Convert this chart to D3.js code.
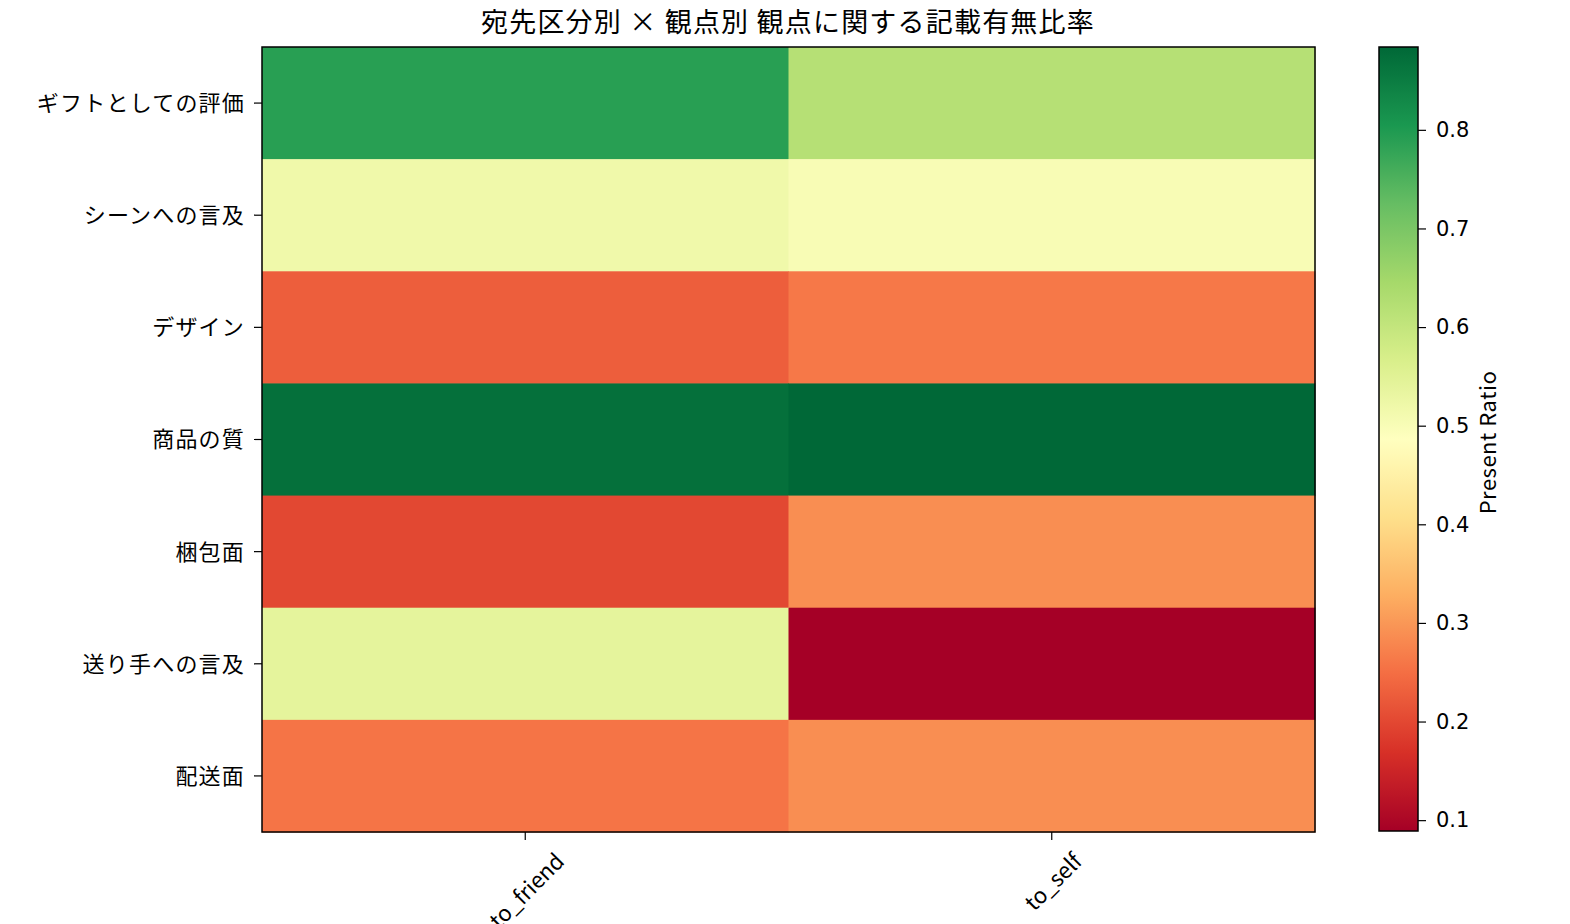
<!DOCTYPE html>
<html><head><meta charset="utf-8">
<script src="https://cdn.jsdelivr.net/npm/d3@7"></script>
<style>body{margin:0;background:#fff}svg{display:block}text{font-family:"Noto Sans CJK JP","Noto Sans",sans-serif;fill:#000}</style>
</head><body><svg id="c" width="1570" height="924"></svg>
<script>
const title = "宛先区分別 × 観点別 観点に関する記載有無比率";
const columns = ["to_friend", "to_self"];
const rows = ["ギフトとしての評価", "シーンへの言及", "デザイン", "商品の質", "梱包面", "送り手への言及", "配送面"];
const toFriend = [0.79, 0.518, 0.228, 0.87, 0.20, 0.54, 0.256];
const toSelf   = [0.62, 0.502, 0.262, 0.884, 0.288, 0.089, 0.288];
const cbTicks = [0.1, 0.2, 0.3, 0.4, 0.5, 0.6, 0.7, 0.8];
const cbLabel = "Present Ratio";
const vmin = 0.089, vmax = 0.884;

const svg = d3.select("#c");
const L = 262, R = 1315, T = 47, B = 832;
const x = d3.scaleBand().domain(columns).range([L, R]);
const y = d3.scaleBand().domain(rows).range([T, B]);
const stops = d3.schemeRdYlGn[11];
const cmapT = d3.scaleLinear().domain(d3.range(11).map(i => i / 10)).range(stops).interpolate(d3.interpolateRgb).clamp(true);
const color = v => cmapT((v - vmin) / (vmax - vmin));

const cells = [];
rows.forEach((r, i) => { cells.push({r, c: "to_friend", v: toFriend[i]}); cells.push({r, c: "to_self", v: toSelf[i]}); });
svg.append("g").selectAll("rect").data(cells).join("rect")
  .attr("x", d => x(d.c)).attr("y", d => y(d.r))
  .attr("width", x.bandwidth() + 0.5).attr("height", y.bandwidth() + 0.5)
  .attr("fill", d => color(d.v));
svg.append("rect").attr("x", L).attr("y", T).attr("width", R - L).attr("height", B - T)
  .attr("fill", "none").attr("stroke", "#000").attr("stroke-width", 1.5);

// y axis
const yAx = svg.append("g").attr("transform", `translate(${L},0)`)
  .call(d3.axisLeft(y).tickSize(8).tickPadding(9));
yAx.select(".domain").remove();
yAx.selectAll("text").attr("font-size", 22).attr("fill", "#000").attr("dy", "0.36em").attr("letter-spacing", 1.2);
yAx.selectAll("line").attr("stroke", "#000").attr("stroke-width", 1.2);

// x axis
const xAx = svg.append("g").attr("transform", `translate(0,${B})`)
  .call(d3.axisBottom(x).tickSize(8).tickPadding(6));
xAx.select(".domain").remove();
xAx.selectAll("line").attr("stroke", "#000").attr("stroke-width", 1.2);
xAx.selectAll("text").attr("font-size", 22).attr("dy", null).attr("y", null)
  .attr("text-anchor", "middle").attr("dominant-baseline", "central")
  .each(function() {
    const w = this.getComputedTextLength();
    const h = 22;
    const off = 16 + (w + h) * Math.SQRT1_2 / 2;
    d3.select(this).attr("transform", `translate(0,${off}) rotate(-45)`);
  });

// title
svg.append("text").attr("x", 788).attr("y", 32).attr("text-anchor", "middle")
  .attr("font-size", 27).attr("letter-spacing", 1.2).text(title);

// colorbar
const cL = 1379, cR = 1418;
const cy = d3.scaleLinear().domain([vmin, vmax]).range([B - 1, T]);
const defs = svg.append("defs");
const grad = defs.append("linearGradient").attr("id", "g").attr("x1", 0).attr("y1", 1).attr("x2", 0).attr("y2", 0);
grad.selectAll("stop").data(d3.range(0, 1.0001, 0.02)).join("stop")
  .attr("offset", d => d).attr("stop-color", d => cmapT(d));
svg.append("rect").attr("x", cL).attr("y", T).attr("width", cR - cL).attr("height", B - 1 - T)
  .attr("fill", "url(#g)").attr("stroke", "#000").attr("stroke-width", 1.5);
const cAx = svg.append("g").attr("transform", `translate(${cR},0)`)
  .call(d3.axisRight(cy).tickValues(cbTicks).tickFormat(d3.format(".1f")).tickSize(8).tickPadding(10));
cAx.select(".domain").remove();
cAx.selectAll("line").attr("stroke", "#000").attr("stroke-width", 1.2);
cAx.selectAll("text").attr("font-size", 21).attr("fill", "#000").style("font-family", "'DejaVu Sans', sans-serif");
svg.append("text").attr("transform", `translate(1496,${(T + B) / 2 + 3}) rotate(-90)`)
  .attr("text-anchor", "middle").attr("font-size", 22).attr("letter-spacing", 0.5).text(cbLabel);
</script></body></html>
